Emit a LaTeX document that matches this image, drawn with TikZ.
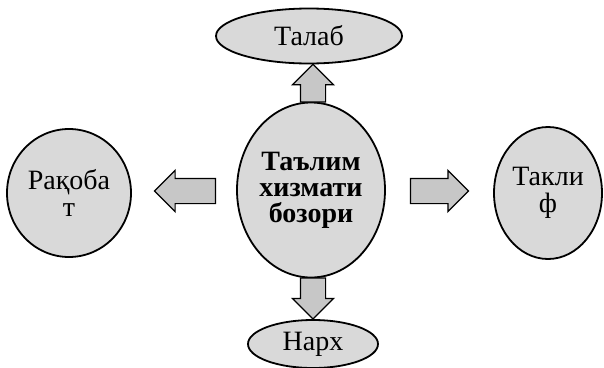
\documentclass[tikz,border=0pt]{standalone}
\usepackage{fontspec}
\setmainfont{Liberation Serif}
\usetikzlibrary{shapes.geometric, shapes.arrows, calc}

\begin{document}
\begin{tikzpicture}[x=1pt, y=-1pt,
    oval/.style={draw, ellipse, line width=1.8pt, fill=black!15, inner sep=0pt, align=center, font=\fontsize{28}{27}\selectfont},
    barrow/.style={draw, single arrow, line width=1.2pt, fill=black!22, inner sep=12pt, minimum width=41pt, single arrow head extend=8pt, anchor=tail}]
\useasboundingbox (0,0) rectangle (604,367);

% Central market node
\node[oval, minimum width=148pt, minimum height=175pt, font=\fontsize{28}{26}\selectfont\bfseries] (bozor) at (311,190) {Таълим\\хизмати\\бозори};

% Outer nodes
\node[oval, minimum width=186pt, minimum height=55pt] (talab) at (309,36) {Талаб};
\node[oval, minimum width=130pt, minimum height=48pt] (narkh) at (313,344) {Нарх};
\node[oval, minimum width=124pt, minimum height=128pt] (raqobat) at (69,193) {Рақоба\\т};
\node[oval, minimum width=108pt, minimum height=132pt] (taklif) at (548,193) {Такли\\ф};

% Block arrows, tail on the central node
\node[barrow, minimum height=37pt, shape border rotate=90] (up) at ($(bozor.north)+(2,1)$) {};
\node[barrow, minimum height=41pt, shape border rotate=270] (down) at ($(bozor.south)+(2,-1)$) {};
\node[barrow, minimum height=61pt, shape border rotate=180] (left) at ($(bozor.west)+(-20,1)$) {};
\node[barrow, minimum height=58pt] (right) at ($(bozor.east)+(24,1)$) {};
\end{tikzpicture}
\end{document}
